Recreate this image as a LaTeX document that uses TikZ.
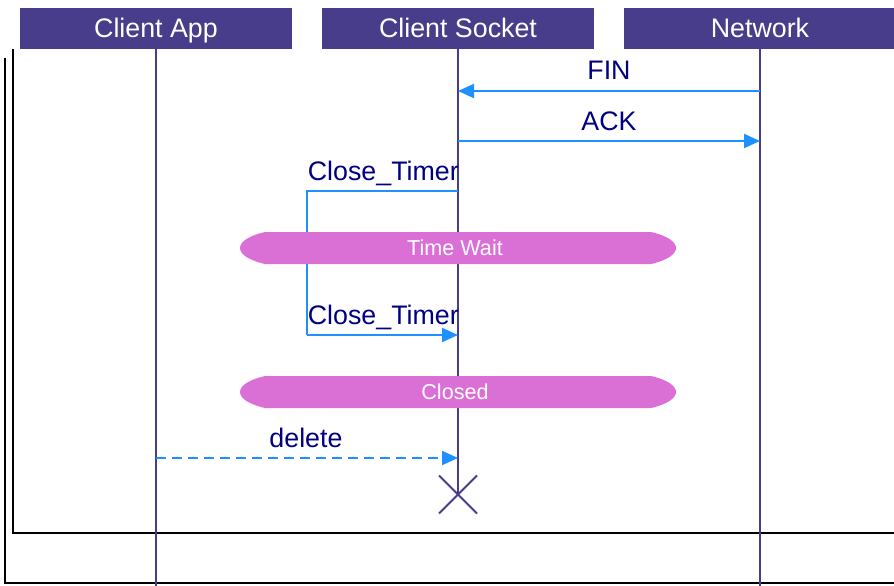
\documentclass[tikz,border=0pt]{standalone}
\usepackage{fontspec}
\setmainfont{Liberation Sans}
\usetikzlibrary{arrows.meta,calc}
\definecolor{lifec}{HTML}{483D8B}
\definecolor{msgc}{HTML}{1E90FF}
\definecolor{labc}{HTML}{000080}
\definecolor{bandc}{HTML}{DA70D6}
\tikzset{
  x=1pt, y=-1pt,
  header/.style={fill=lifec, draw=none, minimum height=41pt,
    minimum width=272pt, inner sep=0pt},
  headtext/.style={text=white, anchor=base, inner sep=0pt,
    font=\fontsize{26.8}{26.8}\selectfont},
  lifeline/.style={draw=lifec, line width=1.8pt},
  msg/.style={draw=msgc, line width=2pt, -{Triangle[length=16pt,width=14pt]}},
  msgplain/.style={draw=msgc, line width=2pt},
  retmsg/.style={msg, dash pattern=on 10pt off 6pt},
  msglabel/.style={text=labc, anchor=base, inner sep=0pt,
    font=\fontsize{26.8}{26.8}\selectfont},
  band/.style={fill=bandc, draw=none},
  bandlabel/.style={text=white, anchor=base, inner sep=0pt,
    font=\fontsize{21.6}{21.6}\selectfont},
  frameline/.style={draw=black, line width=2.8pt},
}
\begin{document}
\begin{tikzpicture}
\useasboundingbox (0,0) rectangle (894,586);
\clip (0,0) rectangle (894,586);

% enclosing frames, open to the top and to the right
\draw[frameline] (13,49) -- (13,533) -- (900,533);
\draw[frameline] (5,58) -- (5,583) -- (900,583);

% participant heads
\node[header] (app)  at (156,28.5) {};
\node[header] (sock) at (458,28.5) {};
\node[header] (net)  at (760,28.5) {};
\node[headtext] (apptxt)  at (156,38) {Client App};
\node[headtext] (socktxt) at (458,38) {Client Socket};
\node[headtext] (nettxt)  at (760,38) {Network};

% lifeline ends
\coordinate (appEnd)  at (156,590);
\coordinate (sockEnd) at (458,494.5);
\coordinate (netEnd)  at (760,590);

\draw[lifeline] (app.south)  -- (appEnd);
\draw[lifeline] (sock.south) -- (sockEnd);
\draw[lifeline] (net.south)  -- (netEnd);

% points on the lifelines where messages attach
\coordinate (netFin)   at (760,91);
\coordinate (sockFin)  at (458,91);
\coordinate (sockAck)  at (458,141);
\coordinate (netAck)   at (760,141);
\coordinate (sockT1)   at (458,191);
\coordinate (loopA)    at (307,191);
\coordinate (loopB)    at (307,335);
\coordinate (sockT2)   at (458,335);
\coordinate (appDel)   at (156,458);
\coordinate (sockDel)  at (458,458);

% FIN / ACK
\draw[msg] (netFin) -- (sockFin);
\node[msglabel] (finlab) at (609,80) {FIN};
\draw[msg] (sockAck) -- (netAck);
\node[msglabel] (acklab) at (609,130) {ACK};

% timer self-message
\draw[msgplain] (sockT1) -- (loopA) -- (loopB);
\draw[msg] (loopB) -- (sockT2);
\node[msglabel, anchor=base east] (t1lab) at (459,180) {Close\_Timer};
\node[msglabel, anchor=base east] (t2lab) at (459,324) {Close\_Timer};

% state bands
\path[band] (265,232) -- (651,232) .. controls (668,236) and (676,242) .. (676,248)
  .. controls (676,254) and (668,260) .. (651,264) -- (265,264)
  .. controls (248,260) and (240,254) .. (240,248)
  .. controls (240,242) and (248,236) .. (265,232);
\node[bandlabel] (waitlab) at (455,255) {Time Wait};

\path[band] (265,376) -- (651,376) .. controls (668,380) and (676,386) .. (676,392)
  .. controls (676,398) and (668,404) .. (651,408) -- (265,408)
  .. controls (248,404) and (240,398) .. (240,392)
  .. controls (240,386) and (248,380) .. (265,376);
\node[bandlabel] (closedlab) at (455,399) {Closed};

% delete
\draw[retmsg] (appDel) -- (sockDel);
\node[msglabel] (dellab) at (306,447) {delete};

% destruction mark
\draw[lifeline] ($(sockEnd)+(-19,-19)$) -- ($(sockEnd)+(19,19)$);
\draw[lifeline] ($(sockEnd)+(-19,19)$) -- ($(sockEnd)+(19,-19)$);
\end{tikzpicture}
\end{document}
